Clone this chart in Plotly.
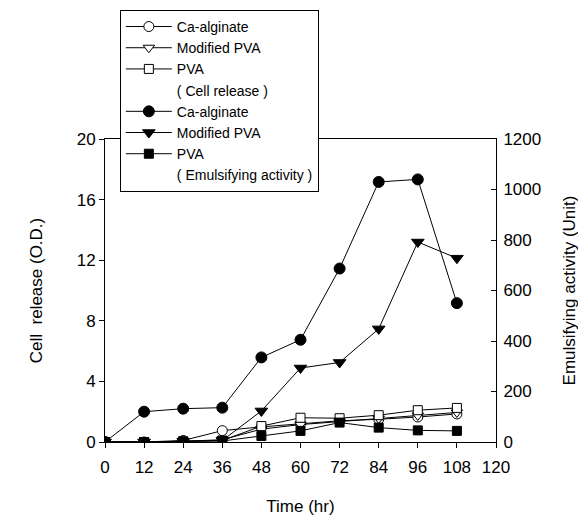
import plotly.graph_objects as go

time_hr = [0, 12, 24, 36, 48, 60, 72, 84, 96, 108]

# Cell release (O.D.) - left axis
cell_ca_alginate = [0, 0, 0.1, 0.75, 1.0, 1.2, 1.4, 1.5, 1.65, 1.85]
cell_modified_pva = [0, 0, 0.05, 0.15, 0.85, 1.15, 1.35, 1.55, 1.75, 1.95]
cell_pva = [0, 0, 0.05, 0.1, 1.05, 1.6, 1.57, 1.77, 2.1, 2.25]

# Emulsifying activity (Unit) - right axis
emul_ca_alginate = [0, 120, 132, 136, 335, 405, 687, 1030, 1040, 550]
emul_modified_pva = [0, 0, 3, 6, 123, 293, 315, 448, 792, 728]
emul_pva = [0, 0, 2, 4, 24, 44, 77, 57, 46, 44]

x_ticks = [0, 12, 24, 36, 48, 60, 72, 84, 96, 108, 120]
left_ticks = [0, 4, 8, 12, 16, 20]
right_ticks = [0, 200, 400, 600, 800, 1000, 1200]

FONT = "Liberation Sans, Arial, sans-serif"
line = dict(color="black", width=1)

fig = go.Figure()

def add(y, name, symbol, fill, axis, size):
    fig.add_trace(go.Scatter(
        x=time_hr, y=y, name=name, mode="lines+markers", yaxis=axis,
        line=line,
        marker=dict(symbol=symbol, size=size, color=fill,
                    line=dict(color="black", width=1)),
    ))

def spacer(name):
    fig.add_trace(go.Scatter(x=[None], y=[None], name=name, mode="lines",
                             line=dict(color="rgba(0,0,0,0)", width=1)))

add(cell_ca_alginate, "Ca-alginate", "circle", "white", "y", 10)
add(cell_modified_pva, "Modified PVA", "triangle-down", "white", "y", 10)
add(cell_pva, "PVA", "square", "white", "y", 9)
spacer("( Cell release )")
add(emul_ca_alginate, "Ca-alginate", "circle", "black", "y2", 11)
add(emul_modified_pva, "Modified PVA", "triangle-down", "black", "y2", 11)
add(emul_pva, "PVA", "square", "black", "y2", 9)
spacer("( Emulsifying activity )")

fig.update_layout(
    width=586, height=520,
    margin=dict(l=97, r=98, t=131, b=86, autoexpand=False),
    paper_bgcolor="white", plot_bgcolor="white",
    font=dict(family=FONT, size=16, color="black"),
    showlegend=True,
    legend=dict(
        x=0.038, y=1.426, xanchor="left", yanchor="top",
        bgcolor="white", bordercolor="black", borderwidth=1,
        font=dict(family=FONT, size=14, color="black"),
        tracegroupgap=0, itemwidth=46,
    ),
    xaxis=dict(
        range=[0, 120], tickvals=x_ticks, ticktext=[str(v) for v in x_ticks],
        showgrid=False, zeroline=False, showline=True, linecolor="black",
        linewidth=1, mirror=True, ticks="outside", ticklen=5,
        tickcolor="black", tickfont=dict(size=17), ticklabelstandoff=5,
        title=dict(text="Time (hr)", font=dict(size=17), standoff=23),
    ),
    yaxis=dict(
        range=[0, 20], tickvals=left_ticks, ticktext=[str(v) for v in left_ticks],
        showgrid=False, zeroline=False, showline=True, linecolor="black",
        linewidth=1, ticks="outside", ticklen=5, tickcolor="black",
        tickfont=dict(size=17),
        title=dict(text="Cell  release (O.D.)", font=dict(size=17), standoff=29),
    ),
    yaxis2=dict(
        range=[0, 1200], tickvals=right_ticks, ticktext=[str(v) for v in right_ticks],
        overlaying="y", side="right",
        showgrid=False, zeroline=False, showline=True, linecolor="black",
        linewidth=1, ticks="inside", ticklen=5, tickcolor="black",
        tickfont=dict(size=17), ticklabelstandoff=3,
        title=dict(text="Emulsifying activity (Unit)", font=dict(size=17), standoff=22),
    ),
)

fig.write_html("out.html")
